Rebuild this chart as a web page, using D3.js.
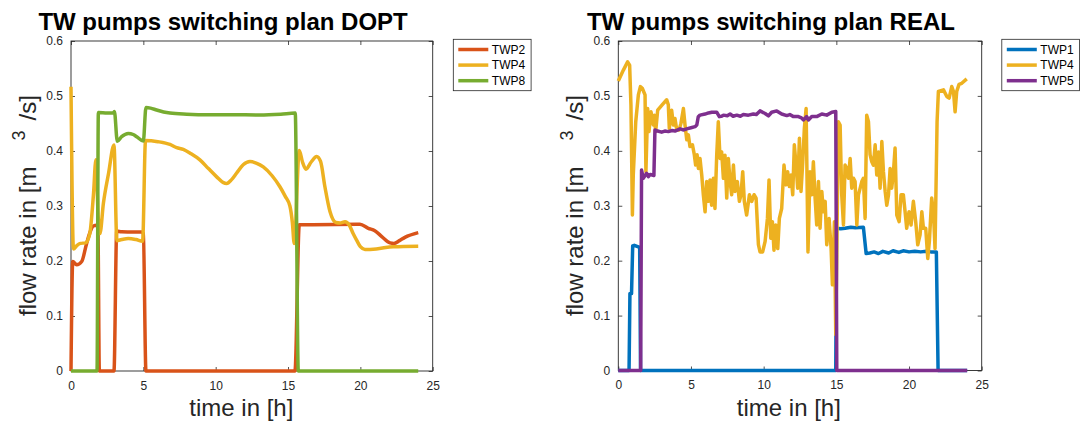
<!DOCTYPE html>
<html>
<head>
<meta charset="utf-8">
<script src="https://cdn.jsdelivr.net/npm/d3@7/dist/d3.min.js"></script>
<style>
  html, body { margin: 0; padding: 0; background: #fff; }
  svg { display: block; font-family: "Liberation Sans", Arial, Helvetica, sans-serif; }
</style>
</head>
<body>
<svg id="chart" width="1080" height="423"></svg>
<script>
// ---- axis ticks ----
const xTicks = [0, 5, 10, 15, 20, 25];
const xTickLabels = ["0", "5", "10", "15", "20", "25"];
const yTicks = [0, 0.1, 0.2, 0.3, 0.4, 0.5, 0.6];
const yTickLabels = ["0", "0.1", "0.2", "0.3", "0.4", "0.5", "0.6"];

// ---- optimised plan (DOPT): [time h, flow m3/s] ----
const doptTWP2 = [[0,0],[0.12,0.199],[0.39,0.193],[0.74,0.199],[1.08,0.232],[1.4,0.258],[1.54,0.2636],[1.78,0.265],[1.86,0.26],[1.96,0],[2.97,0],[3.16,0.2545],[3.5,0.253],[4.88,0.2527],[5.0,0.25],[5.18,0],[15.48,0],[15.78,0.266],[16.5,0.266],[19.97,0.2667],[20.55,0.2594],[21.0,0.255],[21.5,0.244],[22.05,0.233],[22.32,0.232],[22.7,0.237],[23.08,0.243],[24.0,0.2515]];
const doptTWP4 = [[0,0.517],[0.17,0.222],[0.4,0.228],[0.65,0.232],[1.0,0.233],[1.3,0.25],[1.55,0.32],[1.72,0.384],[1.88,0.28],[2.0,0.25],[2.24,0.305],[2.6,0.36],[2.97,0.411],[3.17,0.237],[3.5,0.239],[3.96,0.241],[4.5,0.239],[4.95,0.236],[5.15,0.419],[6.0,0.417],[6.84,0.412],[7.3,0.406],[7.76,0.403],[8.3,0.395],[8.91,0.384],[9.5,0.368],[10.07,0.353],[10.5,0.343],[10.76,0.341],[11.1,0.348],[11.45,0.36],[11.9,0.375],[12.37,0.381],[12.8,0.378],[13.29,0.371],[13.9,0.355],[14.44,0.335],[14.8,0.318],[15.13,0.3],[15.3,0.27],[15.43,0.232],[15.78,0.401],[16.0,0.38],[16.24,0.367],[16.6,0.38],[16.98,0.39],[17.25,0.381],[17.55,0.335],[17.9,0.29],[18.31,0.27],[18.6,0.269],[18.94,0.2715],[19.23,0.2655],[19.5,0.25],[19.74,0.238],[20.0,0.226],[20.32,0.221],[21.1,0.222],[22.27,0.226],[24.0,0.227]];
const doptTWP8 = [[0,0],[1.8,0],[1.89,0.47],[2.5,0.469],[2.92,0.469],[3.0,0.472],[3.2,0.4176],[3.5,0.426],[3.96,0.432],[4.3,0.43],[4.54,0.426],[5.0,0.418],[5.18,0.479],[5.5,0.478],[5.92,0.4745],[6.4,0.471],[6.84,0.469],[8,0.467],[9.6,0.466],[11,0.466],[13.05,0.4655],[14.5,0.467],[15.5,0.469],[15.71,0],[24,0]];

// ---- measured operation (REAL): [time h, flow m3/s] ----
const realTWP1 = [[0,0],[0.74,0],[0.8,0.14],[0.91,0.14],[0.99,0.227],[1.1,0.228],[1.38,0.225],[1.47,0.224],[1.53,0],[14.96,0],[15.02,0.259],[15.3,0.258],[15.6,0.259],[16.0,0.261],[16.3,0.26],[16.86,0.261],[17.05,0.213],[17.3,0.214],[17.6,0.216],[17.9,0.213],[18.2,0.217],[18.6,0.214],[18.9,0.218],[19.3,0.215],[19.6,0.218],[20.0,0.216],[20.4,0.217],[20.8,0.216],[21.2,0.217],[21.5,0.216],[21.88,0.216],[22.0,0],[24,0]];
const realTWP4 = [[0,0.527],[0.35,0.547],[0.64,0.562],[0.78,0.556],[0.87,0.484],[0.97,0.283],[1.03,0.356],[1.2,0.453],[1.38,0.502],[1.52,0.517],[1.65,0.514],[1.84,0.502],[1.9,0.362],[2.02,0.477],[2.11,0.435],[2.25,0.471],[2.41,0.447],[2.48,0.465],[2.57,0.435],[2.71,0.474],[3.03,0.484],[3.33,0.493],[3.44,0.484],[3.51,0.441],[3.67,0.474],[3.79,0.447],[3.9,0.459],[4.02,0.438],[4.18,0.438],[4.31,0.45],[4.48,0.477],[4.59,0.447],[4.71,0.42],[4.82,0.429],[4.93,0.408],[5.1,0.411],[5.23,0.393],[5.32,0.374],[5.42,0.393],[5.51,0.368],[5.62,0.386],[5.74,0.356],[5.85,0.32],[5.97,0.289],[6.08,0.344],[6.2,0.308],[6.31,0.347],[6.42,0.301],[6.54,0.35],[6.65,0.295],[6.77,0.392],[6.88,0.453],[7.0,0.386],[7.11,0.398],[7.23,0.35],[7.34,0.392],[7.46,0.314],[7.57,0.386],[7.69,0.344],[7.8,0.32],[7.92,0.374],[8.03,0.326],[8.19,0.344],[8.33,0.308],[8.44,0.32],[8.56,0.362],[8.67,0.308],[8.83,0.283],[9.02,0.32],[9.18,0.308],[9.34,0.32],[9.48,0.314],[9.64,0.229],[9.75,0.216],[9.93,0.216],[10.1,0.235],[10.26,0.277],[10.37,0.347],[10.49,0.241],[10.6,0.271],[10.71,0.219],[10.83,0.265],[10.97,0.222],[11.08,0.277],[11.24,0.295],[11.4,0.374],[11.54,0.338],[11.65,0.362],[11.77,0.335],[11.88,0.356],[12.0,0.32],[12.11,0.411],[12.23,0.374],[12.34,0.332],[12.46,0.423],[12.57,0.326],[12.69,0.38],[12.8,0.441],[12.92,0.477],[13.05,0.216],[13.19,0.362],[13.31,0.32],[13.42,0.38],[13.54,0.314],[13.65,0.265],[13.77,0.344],[13.88,0.259],[14.0,0.326],[14.11,0.289],[14.23,0.308],[14.34,0.229],[14.5,0.277],[14.64,0.222],[14.73,0.156],[14.87,0.271],[14.96,0.065],[15.14,0.453],[15.26,0.447],[15.37,0.32],[15.49,0.265],[15.6,0.374],[15.72,0.368],[15.83,0.35],[15.95,0.386],[16.06,0.332],[16.18,0.35],[16.29,0.344],[16.41,0.265],[16.52,0.32],[16.64,0.332],[16.75,0.344],[16.86,0.35],[16.98,0.277],[17.09,0.465],[17.21,0.453],[17.32,0.393],[17.44,0.38],[17.55,0.374],[17.67,0.411],[17.78,0.356],[17.9,0.398],[18.01,0.332],[18.13,0.417],[18.24,0.362],[18.36,0.326],[18.47,0.301],[18.59,0.32],[18.7,0.368],[18.81,0.332],[18.93,0.362],[19.04,0.405],[19.16,0.283],[19.32,0.271],[19.45,0.32],[19.61,0.32],[19.73,0.289],[19.84,0.259],[20.0,0.289],[20.14,0.265],[20.3,0.308],[20.46,0.271],[20.6,0.229],[20.76,0.247],[20.88,0.289],[20.99,0.259],[21.15,0.259],[21.29,0.204],[21.4,0.235],[21.56,0.314],[21.68,0.289],[21.79,0.222],[21.93,0.453],[22.02,0.508],[22.37,0.511],[22.6,0.499],[22.76,0.496],[22.94,0.517],[23.06,0.508],[23.17,0.471],[23.28,0.508],[23.44,0.521],[23.63,0.523],[23.97,0.531]];
const realTWP5 = [[0,0],[1.54,0],[1.6,0.365],[1.72,0.35],[1.95,0.359],[2.07,0.353],[2.2,0.357],[2.34,0.356],[2.45,0.355],[2.52,0.438],[2.7,0.436],[2.98,0.434],[3.2,0.436],[3.44,0.435],[3.7,0.437],[3.9,0.436],[4.25,0.44],[4.5,0.438],[4.7,0.44],[5.0,0.442],[5.28,0.444],[5.4,0.447],[5.5,0.462],[5.62,0.465],[5.97,0.467],[6.2,0.469],[6.43,0.4703],[6.77,0.4703],[6.95,0.4623],[7.1,0.463],[7.23,0.465],[7.5,0.464],[7.69,0.467],[7.9,0.463],[8.15,0.465],[8.4,0.463],[8.6,0.466],[8.95,0.465],[9.29,0.467],[9.5,0.466],[9.75,0.4727],[10.1,0.468],[10.33,0.4636],[10.55,0.4703],[10.9,0.4727],[11.24,0.467],[11.59,0.4642],[11.8,0.466],[12.05,0.4623],[12.39,0.4623],[12.6,0.46],[12.73,0.4563],[12.96,0.4623],[13.08,0.4563],[13.31,0.4623],[13.65,0.4623],[14.0,0.467],[14.34,0.465],[14.69,0.4703],[14.96,0.4715],[15.03,0],[24,0]];

// MATLAB default line colours
const colors = { TWP1: "#0072BD", TWP2: "#D95319", TWP4: "#EDB120", TWP5: "#7E2F8E", TWP8: "#77AC30" };

const svg = d3.select("#chart");
svg.append("rect").attr("width", 1080).attr("height", 423).attr("fill", "#fff");

const AX = "#262626";
const LW = 3.5;

function drawPanel(p) {
  const x = d3.scaleLinear().domain([0, 25]).range([p.left, p.right]);
  const y = d3.scaleLinear().domain([0, 0.6]).range([p.bottom, p.top]);
  const g = svg.append("g");

  // axes with inward ticks on all four sides
  const fmtX = (d, i) => xTickLabels[i];
  const fmtY = (d, i) => yTickLabels[i];
  const styleAxis = sel => {
    sel.select(".domain").remove();
    sel.selectAll(".tick line").attr("stroke", AX).attr("stroke-width", 0.8);
    sel.selectAll("text").attr("fill", AX).style("font-size", "12px")
      .style("font-family", '"Liberation Sans", Arial, sans-serif');
  };
  g.append("g").attr("transform", `translate(0,${p.bottom})`)
    .call(d3.axisBottom(x).tickValues(xTicks).tickFormat(fmtX).tickSizeInner(-4).tickSizeOuter(0).tickPadding(10))
    .call(styleAxis);
  g.append("g").attr("transform", `translate(0,${p.top})`)
    .call(d3.axisTop(x).tickValues(xTicks).tickFormat("").tickSizeInner(-4).tickSizeOuter(0))
    .call(styleAxis);
  g.append("g").attr("transform", `translate(${p.left},0)`)
    .call(d3.axisLeft(y).tickValues(yTicks).tickFormat(fmtY).tickSizeInner(-4).tickSizeOuter(0).tickPadding(8))
    .call(styleAxis);
  g.append("g").attr("transform", `translate(${p.right},0)`)
    .call(d3.axisRight(y).tickValues(yTicks).tickFormat("").tickSizeInner(-4).tickSizeOuter(0))
    .call(styleAxis);
  g.append("rect")
    .attr("x", p.left).attr("y", p.top)
    .attr("width", p.right - p.left).attr("height", p.bottom - p.top)
    .attr("fill", "none").attr("stroke", AX).attr("stroke-width", 0.9);

  // series
  const line = d3.line().x(d => x(d[0])).y(d => y(d[1])).curve(p.curve);
  p.series.forEach(s => {
    g.append("path").datum(s.data)
      .attr("d", line)
      .attr("fill", "none")
      .attr("stroke", colors[s.name])
      .attr("stroke-width", LW)
      .attr("stroke-linejoin", "round")
      .attr("stroke-linecap", "butt");
  });

  // title
  g.append("text").attr("x", p.titleX).attr("y", 30)
    .attr("font-size", 24).attr("font-weight", "bold").attr("fill", "#000")
    .text(p.title);

  // x label
  g.append("text").attr("x", p.xlabX).attr("y", 416.4)
    .attr("font-size", 24).attr("fill", AX)
    .text("time in [h]");

  // y label (rotated, with raised exponent)
  const yl = p.left - 35.3;
  g.append("text").attr("transform", `translate(${yl},316) rotate(-90)`)
    .attr("font-size", 24).attr("fill", AX).text("flow rate in [m");
  g.append("text").attr("transform", `translate(${yl - 10.5},140.5) rotate(-90)`)
    .attr("font-size", 18).attr("fill", AX).text("3");
  g.append("text").attr("transform", `translate(${yl},120.5) rotate(-90)`)
    .attr("font-size", 24).attr("fill", AX).text("/s]");

  // legend
  const lg = g.append("g").attr("transform", `translate(${p.legX},39.3)`);
  lg.append("rect").attr("width", 77.8).attr("height", 51.4)
    .attr("fill", "#fff").attr("stroke", AX).attr("stroke-width", 0.8);
  p.series.forEach((s, i) => {
    const ry = 10.2 + i * 15.6;
    lg.append("line").attr("x1", 5).attr("x2", 35).attr("y1", ry).attr("y2", ry)
      .attr("stroke", colors[s.name]).attr("stroke-width", LW);
    lg.append("text").attr("x", 38.5).attr("y", ry).attr("dy", "0.36em")
      .attr("font-size", 12).attr("fill", "#000").text(s.name);
  });
}

drawPanel({
  left: 71, right: 432.7, top: 41, bottom: 371,
  title: "TW pumps switching plan DOPT", titleX: 38.4, xlabX: 189.3, legX: 453.3,
  curve: d3.curveMonotoneX,
  series: [
    { name: "TWP2", data: doptTWP2 },
    { name: "TWP4", data: doptTWP4 },
    { name: "TWP8", data: doptTWP8 }
  ]
});

drawPanel({
  left: 618.3, right: 981.7, top: 41, bottom: 370.5,
  title: "TW pumps switching plan REAL", titleX: 586.9, xlabX: 736.8, legX: 1001.8,
  curve: d3.curveLinear,
  series: [
    { name: "TWP1", data: realTWP1 },
    { name: "TWP4", data: realTWP4 },
    { name: "TWP5", data: realTWP5 }
  ]
});
</script>
</body>
</html>
